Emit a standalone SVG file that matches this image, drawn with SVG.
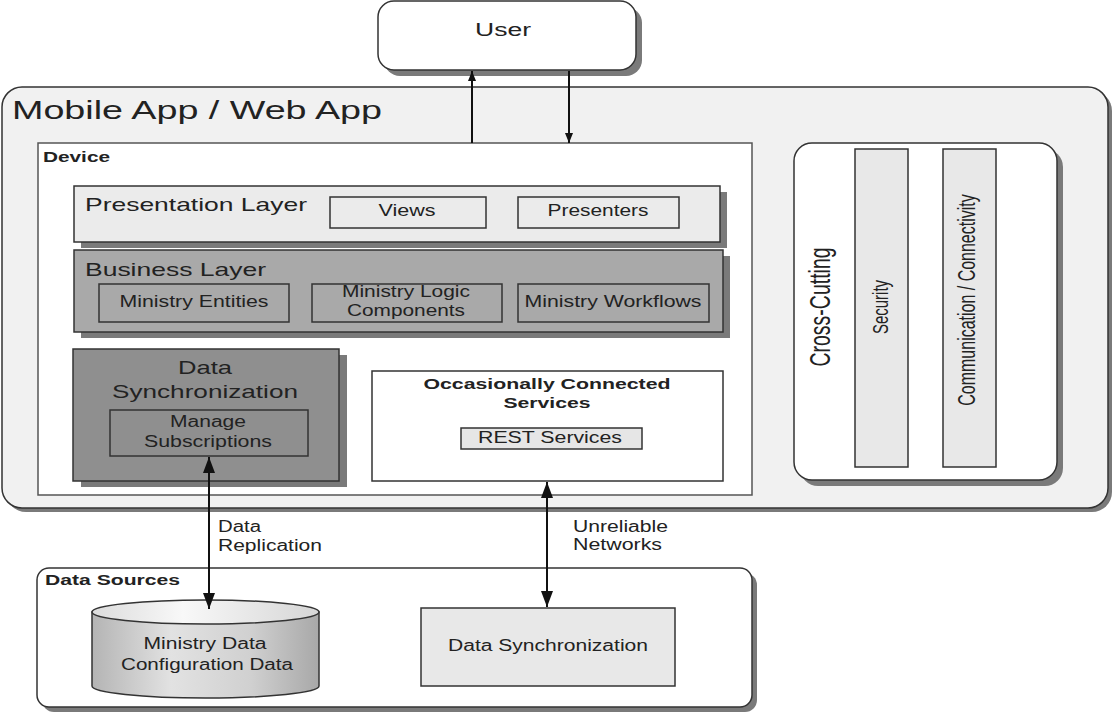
<svg xmlns="http://www.w3.org/2000/svg" width="1116" height="712" viewBox="0 0 1116 712">
<style>
text{font-family:"Liberation Sans",Arial,Helvetica,sans-serif;fill:#222}
.b{font-weight:bold}
.m{text-anchor:middle}
.box{stroke:#333;stroke-width:1.5}
.sh{fill:#7a7a7a;stroke:none}
.conn{stroke:#111;stroke-width:2;fill:none}
</style>
<defs>
<marker id="ah" markerUnits="userSpaceOnUse" markerWidth="16" markerHeight="12" refX="16" refY="6" orient="auto-start-reverse"><path d="M0,0 L16,6 L0,12 z" fill="#111"/></marker>
<marker id="ahs" markerUnits="userSpaceOnUse" markerWidth="10" markerHeight="8" refX="10" refY="4" orient="auto"><path d="M0,0 L10,4 L0,8 z" fill="#111"/></marker>
<linearGradient id="cylBody" x1="0" y1="0" x2="1" y2="0">
<stop offset="0" stop-color="#b4b4b4"/><stop offset="0.35" stop-color="#e2e2e2"/><stop offset="0.7" stop-color="#d0d0d0"/><stop offset="1" stop-color="#a8a8a8"/>
</linearGradient>
<linearGradient id="cylTop" x1="0" y1="0" x2="1" y2="0">
<stop offset="0" stop-color="#dcdcdc"/><stop offset="0.4" stop-color="#f8f8f8"/><stop offset="1" stop-color="#d6d6d6"/>
</linearGradient>
</defs>

<g id="user">
<rect class="sh" x="384" y="7" width="258" height="69" rx="16"/>
<rect class="box" x="378" y="1" width="258" height="69" rx="16" fill="#fff"/>
<text class="m" x="503" y="36" font-size="18" textLength="56" lengthAdjust="spacingAndGlyphs">User</text>
</g>

<g id="mobile-app">
<rect class="sh" x="6" y="91" width="1106" height="421" rx="20"/>
<rect class="box" x="2" y="87" width="1106" height="421" rx="20" fill="#f1f1f1"/>
<text x="12" y="119" font-size="25" textLength="370" lengthAdjust="spacingAndGlyphs">Mobile App / Web App</text>
</g>

<g id="device">
<rect x="38" y="143" width="714" height="352" fill="#fff" stroke="#555" stroke-width="1.5"/>
<text class="b" x="43" y="162" font-size="15.5" textLength="67" lengthAdjust="spacingAndGlyphs">Device</text>
</g>

<g id="presentation-layer">
<rect class="sh" x="81" y="192" width="646" height="56"/>
<rect class="box" x="74" y="186" width="646" height="56" fill="#ebebeb"/>
<text x="85" y="211" font-size="19" textLength="222" lengthAdjust="spacingAndGlyphs">Presentation Layer</text>
</g>
<g id="views">
<rect class="box" x="330" y="197" width="156" height="31" fill="#ebebeb"/>
<text class="m" x="407" y="216" font-size="16" textLength="57" lengthAdjust="spacingAndGlyphs">Views</text>
</g>
<g id="presenters">
<rect class="box" x="518" y="197" width="161" height="31" fill="#ebebeb"/>
<text class="m" x="598" y="216" font-size="16" textLength="101" lengthAdjust="spacingAndGlyphs">Presenters</text>
</g>

<g id="business-layer">
<rect class="sh" x="81" y="256" width="649" height="82"/>
<rect class="box" x="74" y="250" width="649" height="82" fill="#a9a9a9"/>
<text x="85" y="276" font-size="19" textLength="181" lengthAdjust="spacingAndGlyphs">Business Layer</text>
</g>
<g id="ministry-entities">
<rect class="box" x="99" y="284" width="190" height="38" fill="#a9a9a9"/>
<text class="m" x="194" y="307" font-size="16" textLength="149" lengthAdjust="spacingAndGlyphs">Ministry Entities</text>
</g>
<g id="ministry-logic">
<rect class="box" x="312" y="284" width="190" height="38" fill="#a9a9a9"/>
<text class="m" x="406" y="297" font-size="16" textLength="128" lengthAdjust="spacingAndGlyphs">Ministry Logic</text>
<text class="m" x="406" y="316" font-size="16" textLength="118" lengthAdjust="spacingAndGlyphs">Components</text>
</g>
<g id="ministry-workflows">
<rect class="box" x="518" y="284" width="191" height="38" fill="#a9a9a9"/>
<text class="m" x="613" y="307" font-size="16" textLength="177" lengthAdjust="spacingAndGlyphs">Ministry Workflows</text>
</g>

<g id="data-synchronization-device">
<rect class="sh" x="81" y="355" width="266" height="132"/>
<rect class="box" x="73" y="349" width="266" height="132" fill="#8f8f8f"/>
<text class="m" x="205" y="374" font-size="19" textLength="54" lengthAdjust="spacingAndGlyphs">Data</text>
<text class="m" x="205" y="398" font-size="19" textLength="186" lengthAdjust="spacingAndGlyphs">Synchronization</text>
</g>
<g id="manage-subscriptions">
<rect class="box" x="110" y="410" width="198" height="46" fill="#8f8f8f"/>
<text class="m" x="208" y="427" font-size="16" textLength="76" lengthAdjust="spacingAndGlyphs">Manage</text>
<text class="m" x="208" y="447" font-size="16" textLength="128" lengthAdjust="spacingAndGlyphs">Subscriptions</text>
</g>

<g id="occasionally-connected-services">
<rect class="box" x="372" y="371" width="351" height="110" fill="#fff"/>
<text class="b m" x="547" y="389" font-size="15.5" textLength="247" lengthAdjust="spacingAndGlyphs">Occasionally Connected</text>
<text class="b m" x="547" y="408" font-size="15.5" textLength="87" lengthAdjust="spacingAndGlyphs">Services</text>
</g>
<g id="rest-services">
<rect class="box" x="461" y="428" width="181" height="21" fill="#e6e6e6"/>
<text class="m" x="550" y="443" font-size="16" textLength="144" lengthAdjust="spacingAndGlyphs">REST Services</text>
</g>

<g id="cross-cutting">
<rect class="sh" x="800" y="149" width="263" height="337" rx="18"/>
<rect class="box" x="794" y="143" width="263" height="337" rx="18" fill="#fff"/>
<text class="m" transform="translate(830,307) scale(1.5,1) rotate(-90)" font-size="19.5">Cross-Cutting</text>
</g>
<g id="security">
<rect class="box" x="855" y="149" width="53" height="318" fill="#e8e8e8"/>
<text class="m" transform="translate(888,307) scale(1.5,1) rotate(-90)" font-size="15">Security</text>
</g>
<g id="communication">
<rect class="box" x="943" y="149" width="53" height="318" fill="#e8e8e8"/>
<text class="m" transform="translate(975,300) scale(1.5,1) rotate(-90)" font-size="16">Communication / Connectivity</text>
</g>

<g id="data-sources">
<rect class="sh" x="42" y="573" width="715" height="139" rx="12"/>
<rect class="box" x="37" y="568" width="715" height="139" rx="12" fill="#fff"/>
<text class="b" x="45" y="585" font-size="14.5" textLength="135" lengthAdjust="spacingAndGlyphs">Data Sources</text>
</g>
<g id="ministry-data">
<path class="box" d="M92,612 L92,686 A113.5,12 0 0 0 319,686 L319,612 Z" fill="url(#cylBody)"/>
<ellipse class="box" cx="205.5" cy="612" rx="113.5" ry="12" fill="url(#cylTop)"/>
<text class="m" x="205" y="649" font-size="16" textLength="123" lengthAdjust="spacingAndGlyphs">Ministry Data</text>
<text class="m" x="207" y="670" font-size="16" textLength="172" lengthAdjust="spacingAndGlyphs">Configuration Data</text>
</g>
<g id="data-synchronization-source">
<rect class="box" x="421" y="608" width="254" height="78" fill="#e8e8e8"/>
<text class="m" x="548" y="651" font-size="16" textLength="200" lengthAdjust="spacingAndGlyphs">Data Synchronization</text>
</g>

<g id="connectors">
<line class="conn" x1="472" y1="143" x2="472" y2="71" stroke-width="1.5" marker-end="url(#ahs)"/>
<line class="conn" x1="569" y1="71" x2="569" y2="143" stroke-width="1.5" marker-end="url(#ahs)"/>
<line class="conn" x1="209" y1="457" x2="209" y2="609" marker-start="url(#ah)" marker-end="url(#ah)"/>
<line class="conn" x1="547" y1="482" x2="547" y2="607" marker-start="url(#ah)" marker-end="url(#ah)"/>
<text x="218" y="532" font-size="16" textLength="43" lengthAdjust="spacingAndGlyphs">Data</text>
<text x="218" y="551" font-size="16" textLength="104" lengthAdjust="spacingAndGlyphs">Replication</text>
<text x="573" y="532" font-size="16" textLength="95" lengthAdjust="spacingAndGlyphs">Unreliable</text>
<text x="573" y="550" font-size="16" textLength="89" lengthAdjust="spacingAndGlyphs">Networks</text>
</g>
</svg>
